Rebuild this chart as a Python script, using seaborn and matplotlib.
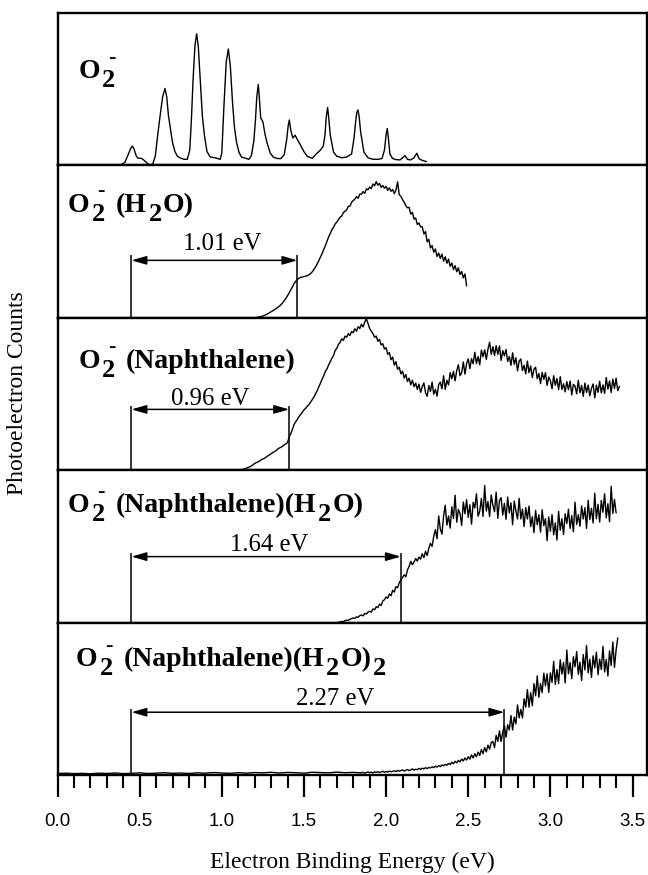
import numpy as np
import pandas as pd
import matplotlib
matplotlib.use("Agg")
import matplotlib.pyplot as plt
import matplotlib.transforms as mtransforms
from matplotlib.ticker import MultipleLocator
import seaborn as sns

# ---------------------------------------------------------------- data
# O2- : vibrationally resolved progression (energy in eV, normalised counts)
p1_energy = [0.30, 0.38, 0.41, 0.43, 0.445, 0.455, 0.465, 0.48, 0.49, 0.51,
             0.52, 0.54, 0.563, 0.58, 0.595, 0.61, 0.625, 0.64, 0.654, 0.665,
             0.675, 0.69, 0.70, 0.715, 0.73, 0.745, 0.77, 0.79, 0.805, 0.815,
             0.825, 0.837, 0.847, 0.857, 0.87, 0.882, 0.895, 0.91, 0.93, 0.96,
             0.99, 1.00, 1.013, 1.027, 1.04, 1.052, 1.066, 1.078, 1.09, 1.105,
             1.12, 1.15, 1.165, 1.18, 1.195, 1.205, 1.213, 1.222, 1.23, 1.237,
             1.25, 1.262, 1.275, 1.295, 1.315, 1.34, 1.36, 1.38, 1.395, 1.404,
             1.411, 1.42, 1.432, 1.446, 1.46, 1.48, 1.50, 1.52, 1.55, 1.575,
             1.60, 1.618, 1.628, 1.636, 1.644, 1.652, 1.66, 1.68, 1.70, 1.73,
             1.76, 1.79, 1.805, 1.815, 1.822, 1.829, 1.836, 1.845, 1.865, 1.89,
             1.92, 1.95, 1.975, 1.99, 2.00, 2.007, 2.014, 2.023, 2.04, 2.06,
             2.085, 2.10, 2.115, 2.13, 2.15, 2.17, 2.187, 2.20, 2.215, 2.245]
p1_counts = [0.000, 0.000, 0.020, 0.070, 0.110, 0.127, 0.110, 0.060, 0.048, 0.046,
             0.040, 0.020, 0.002, 0.010, 0.060, 0.200, 0.330, 0.450, 0.505, 0.450,
             0.330, 0.220, 0.150, 0.090, 0.060, 0.050, 0.040, 0.040, 0.100, 0.300,
             0.560, 0.790, 0.864, 0.780, 0.540, 0.320, 0.190, 0.090, 0.055, 0.050,
             0.040, 0.080, 0.390, 0.680, 0.764, 0.650, 0.400, 0.240, 0.150, 0.085,
             0.055, 0.045, 0.040, 0.064, 0.160, 0.300, 0.450, 0.531, 0.420, 0.310,
             0.287, 0.210, 0.150, 0.080, 0.053, 0.045, 0.045, 0.070, 0.170, 0.260,
             0.298, 0.230, 0.180, 0.198, 0.170, 0.131, 0.090, 0.060, 0.047, 0.075,
             0.100, 0.127, 0.200, 0.320, 0.380, 0.300, 0.200, 0.087, 0.060, 0.050,
             0.055, 0.075, 0.180, 0.290, 0.350, 0.364, 0.320, 0.220, 0.087, 0.050,
             0.040, 0.040, 0.045, 0.100, 0.200, 0.242, 0.180, 0.075, 0.045, 0.038,
             0.036, 0.050, 0.064, 0.040, 0.036, 0.050, 0.080, 0.045, 0.035, 0.025]

# O2-(H2O): sampled every 0.01 eV starting at 1.20 eV
p2_start = 1.20
p2_counts = [0.000, 0.002, 0.004, 0.006, 0.009, 0.012, 0.016, 0.021, 0.027, 0.033,
             0.040, 0.046, 0.053, 0.060, 0.068, 0.076, 0.086, 0.098, 0.112, 0.127,
             0.145, 0.163, 0.183, 0.204, 0.224, 0.240, 0.252, 0.260, 0.266, 0.268,
             0.270, 0.273, 0.276, 0.282, 0.290, 0.301, 0.316, 0.333, 0.352, 0.374,
             0.398, 0.420, 0.447, 0.472, 0.501, 0.530, 0.553, 0.578, 0.594, 0.616,
             0.628, 0.645, 0.660, 0.668, 0.690, 0.700, 0.708, 0.731, 0.733, 0.758,
             0.770, 0.778, 0.795, 0.784, 0.812, 0.811, 0.828, 0.816, 0.846, 0.840,
             0.858, 0.848, 0.878, 0.866, 0.894, 0.870, 0.882, 0.856, 0.868, 0.850,
             0.862, 0.836, 0.853, 0.830, 0.842, 0.815, 0.838, 0.892, 0.808, 0.796,
             0.776, 0.758, 0.736, 0.722, 0.725, 0.680, 0.692, 0.648, 0.655, 0.612,
             0.622, 0.596, 0.598, 0.550, 0.566, 0.498, 0.515, 0.458, 0.474, 0.430,
             0.452, 0.402, 0.425, 0.390, 0.418, 0.372, 0.400, 0.358, 0.385, 0.338,
             0.360, 0.316, 0.342, 0.302, 0.328, 0.284, 0.304, 0.262, 0.288, 0.210]

# O2-(Naphthalene): sampled every 0.01 eV starting at 1.10 eV
p3_start = 1.10
p3_counts = [0.000, 0.002, 0.004, 0.006, 0.009, 0.014, 0.018, 0.022, 0.028, 0.036,
             0.044, 0.050, 0.054, 0.060, 0.068, 0.074, 0.078, 0.086, 0.094, 0.100,
             0.108, 0.116, 0.122, 0.128, 0.138, 0.146, 0.150, 0.158, 0.166, 0.172,
             0.182, 0.218, 0.240, 0.268, 0.300, 0.318, 0.334, 0.352, 0.366, 0.380,
             0.396, 0.406, 0.420, 0.430, 0.446, 0.462, 0.478, 0.500, 0.520, 0.546,
             0.570, 0.596, 0.618, 0.648, 0.664, 0.690, 0.712, 0.734, 0.752, 0.786,
             0.800, 0.826, 0.838, 0.862, 0.852, 0.880, 0.872, 0.896, 0.884, 0.910,
             0.902, 0.928, 0.912, 0.942, 0.930, 0.958, 0.940, 0.972, 0.995, 0.962,
             0.930, 0.912, 0.896, 0.872, 0.880, 0.846, 0.858, 0.822, 0.830, 0.795,
             0.804, 0.760, 0.772, 0.725, 0.742, 0.690, 0.712, 0.662, 0.676, 0.632,
             0.650, 0.605, 0.628, 0.582, 0.604, 0.560, 0.590, 0.548, 0.572, 0.530,
             0.565, 0.511, 0.547, 0.573, 0.509, 0.485, 0.556, 0.517, 0.578, 0.499,
             0.530, 0.486, 0.562, 0.578, 0.534, 0.620, 0.530, 0.590, 0.560, 0.640,
             0.600, 0.648, 0.586, 0.654, 0.692, 0.620, 0.640, 0.710, 0.630, 0.700,
             0.730, 0.666, 0.732, 0.698, 0.774, 0.700, 0.746, 0.692, 0.788, 0.744,
             0.790, 0.727, 0.794, 0.840, 0.760, 0.810, 0.753, 0.817, 0.760, 0.815,
             0.720, 0.785, 0.750, 0.792, 0.714, 0.746, 0.688, 0.770, 0.694, 0.738,
             0.652, 0.716, 0.730, 0.654, 0.688, 0.632, 0.716, 0.640, 0.684, 0.608,
             0.662, 0.676, 0.600, 0.634, 0.568, 0.642, 0.596, 0.640, 0.556, 0.612,
             0.588, 0.534, 0.620, 0.556, 0.602, 0.528, 0.614, 0.530, 0.567, 0.514,
             0.581, 0.528, 0.585, 0.494, 0.563, 0.552, 0.501, 0.590, 0.508, 0.556,
             0.484, 0.572, 0.510, 0.559, 0.488, 0.537, 0.566, 0.475, 0.558, 0.511,
             0.584, 0.507, 0.560, 0.504, 0.608, 0.532, 0.586, 0.510, 0.598, 0.536,
             0.604, 0.522, 0.550]

# O2-(Naphthalene)(H2O): sampled every 0.01 eV starting at 1.70 eV
p4_start = 1.70
p4_counts = [0.000, 0.002, 0.004, 0.008, 0.006, 0.012, 0.016, 0.014, 0.022, 0.026,
             0.030, 0.028, 0.038, 0.034, 0.046, 0.050, 0.044, 0.060, 0.056, 0.070,
             0.074, 0.068, 0.090, 0.084, 0.104, 0.098, 0.122, 0.112, 0.142, 0.150,
             0.168, 0.160, 0.188, 0.176, 0.212, 0.200, 0.236, 0.228, 0.262, 0.280,
             0.296, 0.314, 0.300, 0.346, 0.368, 0.402, 0.380, 0.398, 0.420, 0.404,
             0.430, 0.416, 0.452, 0.426, 0.468, 0.440, 0.488, 0.520, 0.500, 0.566,
             0.610, 0.550, 0.700, 0.615, 0.580, 0.700, 0.770, 0.640, 0.700, 0.620,
             0.760, 0.683, 0.836, 0.659, 0.742, 0.715, 0.638, 0.791, 0.714, 0.807,
             0.690, 0.773, 0.646, 0.789, 0.752, 0.845, 0.698, 0.731, 0.814, 0.697,
             0.900, 0.732, 0.794, 0.696, 0.838, 0.770, 0.728, 0.856, 0.684, 0.802,
             0.820, 0.706, 0.782, 0.678, 0.824, 0.720, 0.786, 0.642, 0.798, 0.734,
             0.680, 0.815, 0.680, 0.745, 0.630, 0.755, 0.680, 0.765, 0.630, 0.695,
             0.590, 0.736, 0.642, 0.708, 0.594, 0.740, 0.636, 0.682, 0.538, 0.694,
             0.600, 0.708, 0.576, 0.654, 0.542, 0.730, 0.606, 0.682, 0.578, 0.714,
             0.650, 0.744, 0.618, 0.702, 0.596, 0.790, 0.644, 0.708, 0.632, 0.766,
             0.680, 0.754, 0.618, 0.802, 0.676, 0.750, 0.654, 0.848, 0.682, 0.776,
             0.660, 0.802, 0.724, 0.846, 0.688, 0.780, 0.662, 0.894, 0.716, 0.808,
             0.720]

# O2-(Naphthalene)(H2O)2: flat baseline every 0.05 eV, then onset every 0.01 eV
p5_low_start = 0.00
p5_low_counts = [0.010, 0.012, 0.009, 0.011, 0.008, 0.012, 0.010, 0.013, 0.009, 0.011,
                 0.014, 0.010, 0.012, 0.015, 0.011, 0.013, 0.010, 0.014, 0.012, 0.016,
                 0.013, 0.011, 0.015, 0.012, 0.016, 0.014, 0.018, 0.013, 0.017, 0.015,
                 0.012, 0.018, 0.016, 0.014, 0.019, 0.015, 0.017]
p5_high_start = 1.85
p5_high_counts = [0.014, 0.018, 0.012, 0.016, 0.020, 0.015, 0.019, 0.013, 0.021, 0.017,
                  0.022, 0.016, 0.020, 0.025, 0.018, 0.023, 0.019, 0.026, 0.021, 0.024,
                  0.028, 0.022, 0.030, 0.025, 0.029, 0.033, 0.026, 0.031, 0.036, 0.029,
                  0.034, 0.040, 0.032, 0.038, 0.035, 0.043, 0.037, 0.045, 0.040, 0.048,
                  0.042, 0.050, 0.046, 0.054, 0.048, 0.058, 0.052, 0.062, 0.055, 0.066,
                  0.060, 0.070, 0.064, 0.076, 0.068, 0.084, 0.074, 0.090, 0.080, 0.096,
                  0.086, 0.104, 0.092, 0.112, 0.098, 0.120, 0.104, 0.132, 0.112, 0.140,
                  0.120, 0.150, 0.128, 0.166, 0.140, 0.180, 0.152, 0.196, 0.170, 0.214,
                  0.220, 0.180, 0.260, 0.220, 0.290, 0.220, 0.282, 0.325, 0.248, 0.330,
                  0.295, 0.390, 0.295, 0.380, 0.335, 0.460, 0.375, 0.430, 0.375, 0.500,
                  0.445, 0.560, 0.445, 0.540, 0.455, 0.600, 0.520, 0.650, 0.510, 0.600,
                  0.540, 0.668, 0.586, 0.664, 0.542, 0.670, 0.608, 0.746, 0.594, 0.692,
                  0.600, 0.756, 0.662, 0.738, 0.604, 0.820, 0.664, 0.738, 0.632, 0.776,
                  0.710, 0.810, 0.660, 0.740, 0.620, 0.790, 0.690, 0.850, 0.670, 0.760,
                  0.640, 0.782, 0.704, 0.806, 0.658, 0.760, 0.692, 0.844, 0.676, 0.758,
                  0.650, 0.814, 0.718, 0.872, 0.706, 0.820, 0.900]

# Binding-energy gaps marked with arrows (eV) and the common left reference
gap_values = [None, 1.01, 0.96, 1.64, 2.27]
gap_labels = ["", "1.01 eV", "0.96 eV", "1.64 eV", "2.27 eV"]
ref_energy = 0.45

tick_values = [0.0, 0.5, 1.0, 1.5, 2.0, 2.5, 3.0, 3.5]
tick_labels = ["0.0", "0.5", "1.0", "1.5", "2.0", "2.5", "3.0", "3.5"]


def grid(start, step, values):
    return np.round(start + step * np.arange(len(values)), 4)


p5_energy = np.concatenate([grid(p5_low_start, 0.05, p5_low_counts),
                            grid(p5_high_start, 0.01, p5_high_counts)])
p5_counts = p5_low_counts + p5_high_counts

spectra = [
    pd.DataFrame({"energy": p1_energy, "counts": p1_counts}),
    pd.DataFrame({"energy": grid(p2_start, 0.01, p2_counts), "counts": p2_counts}),
    pd.DataFrame({"energy": grid(p3_start, 0.01, p3_counts), "counts": p3_counts}),
    pd.DataFrame({"energy": grid(p4_start, 0.01, p4_counts), "counts": p4_counts}),
    pd.DataFrame({"energy": p5_energy, "counts": p5_counts}),
]

# species labels: (text, kind) with kind n = normal, s = subscript, u = superscript
species = [
    [("O", "n"), ("2", "s"), ("-", "u")],
    [("O", "n"), ("2", "s"), ("-", "u"), ("(H", "n"), ("2", "s"), ("O)", "n")],
    [("O", "n"), ("2", "s"), ("-", "u"), ("(Naphthalene)", "n")],
    [("O", "n"), ("2", "s"), ("-", "u"), ("(Naphthalene)(H", "n"), ("2", "s"), ("O)", "n")],
    [("O", "n"), ("2", "s"), ("-", "u"), ("(Naphthalene)(H", "n"), ("2", "s"), ("O)", "n"), ("2", "s")],
]

# ---------------------------------------------------------------- layout
label_pos = [(0.0357, 0.573), (0.0178, 0.695), (0.0357, 0.673), (0.0178, 0.725), (0.0314, 0.712)]
arrow_y = [None, 0.377, 0.399, 0.433, 0.412]
bar_top = [None, 0.41, 0.418, 0.459, 0.436]
gap_text_pos = [None, (1.00, 0.446), (0.93, 0.425), (1.29, 0.472), (1.69, 0.461)]

sns.set_theme(style="ticks")
plt.rcParams["font.family"] = ["Liberation Serif", "DejaVu Serif"]

fig = plt.figure(figsize=(6.48, 8.75), dpi=100)
gs = fig.add_gridspec(5, 1, left=57.5 / 648, right=646.5 / 648,
                      top=1 - 13 / 875, bottom=1 - 775 / 875, hspace=0)
axes = []
for i in range(5):
    ax = fig.add_subplot(gs[i], sharex=axes[0] if axes else None)
    axes.append(ax)

renderer = fig.canvas.get_renderer()
LABEL_SIZE = 20


def species_label(ax, x, y, parts, size):
    dx = 0.0  # horizontal offset in points
    for text, kind in parts:
        if kind == "n":
            fs, rise = size, 0.0
        elif kind == "s":
            fs, rise = size * 0.95, -0.32 * size
        else:
            fs, rise = size * 0.8, 0.56 * size
        off = mtransforms.ScaledTranslation(dx / 72, rise / 72, fig.dpi_scale_trans)
        t = ax.text(x, y, text, transform=ax.transAxes + off, fontsize=fs,
                    fontweight="bold", family="Liberation Serif",
                    ha="left", va="baseline", color="black")
        w = t.get_window_extent(renderer).width * 72 / fig.dpi
        if kind == "u":
            # sit above the right edge of the preceding subscript
            t.set_transform(ax.transAxes + mtransforms.ScaledTranslation(
                (dx - w - 0.6) / 72, rise / 72, fig.dpi_scale_trans))
            dx += 0.36 * size
        elif kind == "s":
            dx += w + 0.03 * size
        else:
            dx += w + 0.07 * size


for i, ax in enumerate(axes):
    sns.lineplot(data=spectra[i], x="energy", y="counts", ax=ax, color="black",
                 linewidth=1.0, estimator=None, sort=False)
    ax.set_xlim(0, 3.585)
    ax.set_ylim(0, 1)
    ax.set_yticks([])
    ax.set_xlabel("")
    ax.set_ylabel("")
    for sp in ax.spines.values():
        sp.set_visible(True)
        sp.set_linewidth(1.7)
        sp.set_color("black")
    ax.tick_params(axis="y", left=False, labelleft=False)
    if i < 4:
        ax.tick_params(axis="x", which="both", bottom=False, labelbottom=False)

    lx, ly = label_pos[i]
    species_label(ax, lx, ly, species[i], LABEL_SIZE)

    if gap_values[i] is not None:
        x0 = ref_energy
        x1 = ref_energy + gap_values[i]
        trans = ax.get_xaxis_transform()
        ax.vlines([x0, x1], 0, bar_top[i], transform=trans, colors="black", linewidth=1.1)
        ax.annotate("", xy=(x1, arrow_y[i]), xytext=(x0, arrow_y[i]),
                    xycoords=trans, textcoords=trans,
                    arrowprops=dict(arrowstyle="<|-|>,head_length=0.45,head_width=0.13",
                                    mutation_scale=20, color="black", lw=1.1,
                                    shrinkA=0, shrinkB=0))
        tx, ty = gap_text_pos[i]
        ax.text(tx, ty, gap_labels[i], transform=trans, ha="center", va="baseline",
                fontsize=17.8, family="Liberation Serif", color="black")

bottom = axes[-1]
bottom.set_xticks(tick_values, labels=tick_labels, fontfamily="Liberation Sans", fontsize=13.5)
bottom.xaxis.set_minor_locator(MultipleLocator(0.1))
bottom.tick_params(axis="x", which="major", direction="out", length=16, width=1.6,
                   pad=11, colors="black", bottom=True)
bottom.tick_params(axis="x", which="minor", direction="out", length=9.5, width=1.5,
                   colors="black", bottom=True)

fig.text(352 / 648, 7 / 875, "Electron Binding Energy (eV)", ha="center", va="baseline",
         fontsize=17, family="Liberation Serif", color="black")
fig.text(18 / 648, 1 - 393 / 875, "Photoelectron Counts", rotation=90, ha="center",
         va="center", fontsize=17, family="Liberation Serif", color="black")

fig.savefig("out.png", dpi=100)
